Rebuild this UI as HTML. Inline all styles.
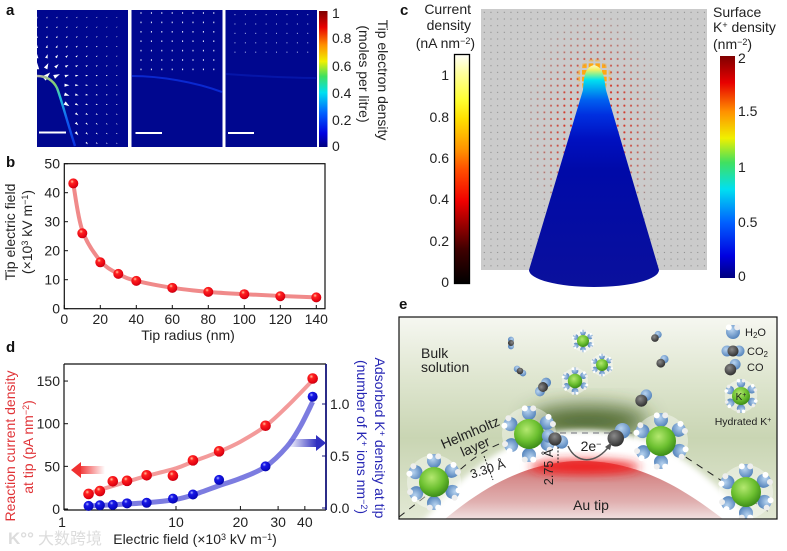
<!DOCTYPE html>
<html lang="en">
<head>
<meta charset="utf-8">
<title>Tip field-induced reagent concentration figure</title>
<style>
html,body{margin:0;padding:0;background:#fff;width:787px;height:551px;overflow:hidden}
svg{display:block}
text{font-family:"Liberation Sans","Noto Sans CJK SC",sans-serif;fill:#222;font-size:14px}
.panel{font-weight:bold;font-size:15px;fill:#111}
</style>
</head>
<body>
<svg id="fig" xmlns="http://www.w3.org/2000/svg" width="787" height="551" viewBox="0 0 787 551">
<defs>
  <linearGradient id="jetV" x1="0" y1="1" x2="0" y2="0">
    <stop offset="0" stop-color="#00007f"/><stop offset=".1" stop-color="#0000e0"/><stop offset=".25" stop-color="#0060ff"/><stop offset=".4" stop-color="#00e0f0"/><stop offset=".52" stop-color="#40e060"/><stop offset=".63" stop-color="#f0f000"/><stop offset=".75" stop-color="#ff9000"/><stop offset=".88" stop-color="#e80000"/><stop offset="1" stop-color="#7f0000"/>
  </linearGradient>
  <linearGradient id="hotV" x1="0" y1="1" x2="0" y2="0">
    <stop offset="0" stop-color="#000"/><stop offset=".15" stop-color="#400000"/><stop offset=".36" stop-color="#f00000"/><stop offset=".5" stop-color="#ff5000"/><stop offset=".58" stop-color="#ff9000"/><stop offset=".72" stop-color="#ffe000"/><stop offset=".8" stop-color="#ffff30"/><stop offset=".92" stop-color="#ffffa0"/><stop offset="1" stop-color="#fffffa"/>
  </linearGradient>
  <linearGradient id="tipA" gradientUnits="userSpaceOnUse" x1="37" y1="76" x2="75" y2="146">
    <stop offset="0" stop-color="#b8b8a8"/><stop offset=".2" stop-color="#80d070"/><stop offset=".38" stop-color="#20c0e0"/><stop offset=".65" stop-color="#1060f0"/><stop offset="1" stop-color="#0a30e0"/>
  </linearGradient>
  <linearGradient id="coneG" gradientUnits="userSpaceOnUse" x1="0" y1="63" x2="0" y2="287">
    <stop offset="0" stop-color="#fffff0"/><stop offset=".03" stop-color="#f4f060"/><stop offset=".054" stop-color="#70f0a0"/><stop offset=".076" stop-color="#00e0f0"/><stop offset=".12" stop-color="#00a0f0"/><stop offset=".165" stop-color="#0060f0"/><stop offset=".23" stop-color="#0030e0"/><stop offset=".34" stop-color="#0010c0"/><stop offset=".48" stop-color="#000aa8"/><stop offset="1" stop-color="#0a109c"/>
  </linearGradient>
  <radialGradient id="redBall" cx=".38" cy=".32" r=".75">
    <stop offset="0" stop-color="#ffc8a0"/><stop offset=".25" stop-color="#ff2020"/><stop offset=".8" stop-color="#e00010"/><stop offset="1" stop-color="#a80010"/>
  </radialGradient>
  <radialGradient id="blueBall" cx=".38" cy=".32" r=".75">
    <stop offset="0" stop-color="#b0b8ff"/><stop offset=".25" stop-color="#1818e8"/><stop offset=".8" stop-color="#0808c0"/><stop offset="1" stop-color="#000080"/>
  </radialGradient>
  <linearGradient id="arrowRed" x1="0" x2="1"><stop offset="0" stop-color="#f03030"/><stop offset="1" stop-color="#f03030" stop-opacity="0"/></linearGradient>
  <linearGradient id="arrowBlue" x1="0" x2="1"><stop offset="0" stop-color="#3030c0" stop-opacity="0"/><stop offset="1" stop-color="#3030c0"/></linearGradient>

  <pattern id="dotGray" width="6.67" height="6.67" patternUnits="userSpaceOnUse" x="481" y="9"><circle cx="3.3" cy="3.3" r=".6" fill="#8a8a8a"/></pattern>
  <pattern id="dotRed" width="6.67" height="6.67" patternUnits="userSpaceOnUse" x="481" y="9"><circle cx="3.3" cy="3.3" r="1.1" fill="#d82818"/></pattern>
  <pattern id="dotYellow" width="6.67" height="6.67" patternUnits="userSpaceOnUse" x="481" y="9"><rect x="1" y="1" width="4.6" height="4.6" fill="#ffa810"/></pattern>
  <radialGradient id="maskR1" gradientUnits="userSpaceOnUse" cx="594" cy="125" r="100" gradientTransform="translate(594 125) scale(.72 1.15) translate(-594 -125)">
    <stop offset="0" stop-color="#fff"/><stop offset=".4" stop-color="#ddd"/><stop offset=".7" stop-color="#666"/><stop offset="1" stop-color="#000"/>
  </radialGradient>
  <radialGradient id="maskR2" gradientUnits="userSpaceOnUse" cx="594" cy="76" r="18">
    <stop offset="0" stop-color="#fff"/><stop offset=".75" stop-color="#fff"/><stop offset="1" stop-color="#000"/>
  </radialGradient>
  <mask id="redMask" maskUnits="userSpaceOnUse" x="481" y="9" width="226" height="261"><rect x="481" y="9" width="226" height="261" fill="url(#maskR1)"/></mask>
  <mask id="yellowMask" maskUnits="userSpaceOnUse" x="481" y="9" width="226" height="261"><rect x="481" y="9" width="226" height="261" fill="url(#maskR2)"/></mask>
  <clipPath id="clipA1"><rect x="37" y="10" width="91" height="137"/></clipPath>

  <linearGradient id="eBg" x1="0" y1="0" x2="0" y2="1">
    <stop offset="0" stop-color="#f6f7f1"/><stop offset=".3" stop-color="#dfe6d0"/><stop offset=".6" stop-color="#c9d5b3"/><stop offset="1" stop-color="#e2e8d4"/>
  </linearGradient>
  <linearGradient id="tipRed" x1="0" y1="0" x2="0" y2="1">
    <stop offset="0" stop-color="#dc5050"/><stop offset=".3" stop-color="#d68c8c"/><stop offset=".7" stop-color="#e0b0b0"/><stop offset="1" stop-color="#f0e0e0"/>
  </linearGradient>
  <radialGradient id="kBall" cx=".42" cy=".35" r=".7">
    <stop offset="0" stop-color="#b4e870"/><stop offset=".55" stop-color="#6cc030"/><stop offset="1" stop-color="#348414"/>
  </radialGradient>
  <radialGradient id="oBall" cx=".4" cy=".35" r=".7"><stop offset="0" stop-color="#b8d4f0"/><stop offset="1" stop-color="#4f7fb8"/></radialGradient>
  <radialGradient id="cBall" cx=".4" cy=".35" r=".7"><stop offset="0" stop-color="#8a8a8a"/><stop offset="1" stop-color="#2a2a2a"/></radialGradient>
  <filter id="blur5" x="-30%" y="-60%" width="160%" height="220%"><feGaussianBlur stdDeviation="5"/></filter>
  <filter id="blur3" x="-30%" y="-30%" width="160%" height="160%"><feGaussianBlur stdDeviation="3"/></filter>
  <filter id="blur12" x="-40%" y="-60%" width="180%" height="220%"><feGaussianBlur stdDeviation="10"/></filter>

  <g id="water">
    <circle cx="0" cy="0" r="7" fill="url(#oBall)"/>
    <circle cx="-4.2" cy="-4.6" r="3" fill="#fff"/>
    <circle cx="4.2" cy="-4.6" r="3" fill="#eee"/>
  </g>
  <g id="hydrated">
    <circle cx="0" cy="0" r="27" fill="#fff" fill-opacity=".4"/>
    <use href="#water" transform="translate(0 -21)"/>
    <use href="#water" transform="rotate(58) translate(0 -21)"/>
    <use href="#water" transform="rotate(118) translate(0 -21)"/>
    <use href="#water" transform="rotate(180) translate(0 -21)"/>
    <use href="#water" transform="rotate(238) translate(0 -21)"/>
    <use href="#water" transform="rotate(298) translate(0 -21)"/>
    <circle cx="0" cy="0" r="15" fill="url(#kBall)"/>
  </g>
  <g id="co2">
    <circle cx="-6" cy="0" r="5.5" fill="url(#oBall)"/>
    <circle cx="6" cy="0" r="5.5" fill="url(#oBall)"/>
    <circle cx="0" cy="0" r="5.5" fill="url(#cBall)"/>
  </g>
  <g id="co">
    <circle cx="3" cy="-3.5" r="5.2" fill="url(#oBall)"/>
    <circle cx="-1.5" cy="1.5" r="5.5" fill="url(#cBall)"/>
  </g>
</defs>

<rect width="787" height="551" fill="#fff"/>

<!-- Panel a -->
<g>
  <text class="panel" x="6" y="15">a</text>
  <rect x="37" y="10" width="91" height="137" fill="#00078f"/>
  <rect x="131.500" y="10" width="91" height="137" fill="#00078f"/>
  <rect x="225.500" y="10" width="91.500" height="137" fill="#00078f"/>
  <g id="arrows" clip-path="url(#clipA1)"></g>
  <g id="arrows23"></g>
  <path d="M37 76 C46 76 53 80 57 88 C61 98 66 118 75 146" fill="none" stroke="url(#tipA)" stroke-width="2.400"/>
  <path d="M132 76 C160 76 195 82 222 92" fill="none" stroke="#0a28d0" stroke-width="2"/>
  <path d="M226 74 C255 76 290 78 316 78" fill="none" stroke="#0515a8" stroke-width="2"/>
  <rect x="39" y="131.500" width="27" height="2" fill="#fff"/>
  <rect x="135.500" y="132" width="26.500" height="2" fill="#fff"/>
  <rect x="228" y="132" width="26" height="2" fill="#fff"/>
  <rect x="319" y="11" width="8.500" height="136" fill="url(#jetV)"/>
  <text x="332" y="18">1</text>
  <text x="332" y="43">0.8</text>
  <text x="332" y="71">0.6</text>
  <text x="332" y="98">0.4</text>
  <text x="332" y="125">0.2</text>
  <text x="332" y="151">0</text>
  <text text-anchor="middle" transform="translate(378 80) rotate(90)">Tip electron density</text>
  <text text-anchor="middle" transform="translate(359 74) rotate(90)">(moles per litre)</text>
</g>

<!-- Panel b -->
<g>
  <text class="panel" x="6" y="167">b</text>
  <g id="chartB"></g>
  <text text-anchor="middle" x="188" y="340">Tip radius (nm)</text>
  <text text-anchor="middle" transform="translate(15 232) rotate(-90)">Tip electric field</text>
  <text text-anchor="middle" transform="translate(32 232) rotate(-90)">(×10<tspan dy="-4" font-size="9">3</tspan><tspan dy="4"> kV m</tspan><tspan dy="-4" font-size="9">−1</tspan><tspan dy="4">)</tspan></text>
</g>

<!-- Panel d -->
<g>
  <text class="panel" x="6" y="352">d</text>
  <g id="chartD"></g>
  <rect x="79" y="466" width="26" height="8" fill="url(#arrowRed)"/>
  <path d="M71 470 L81 462 L81 478 Z" fill="#f03030"/>
  <rect x="288" y="439" width="29" height="8" fill="url(#arrowBlue)"/>
  <path d="M326 443 L316 435 L316 451 Z" fill="#3030c0"/>
  <text text-anchor="middle" transform="translate(15 446) rotate(-90)" style="fill:#e03438">Reaction current density</text>
  <text text-anchor="middle" transform="translate(33 447) rotate(-90)" style="fill:#e03438">at tip (pA nm<tspan dy="-4" font-size="9" style="fill:#e03438">−2</tspan><tspan dy="4" style="fill:#e03438">)</tspan></text>
  <text text-anchor="middle" transform="translate(375 438) rotate(90)" style="fill:#2626b4">Adsorbed K<tspan dy="-4" font-size="9" style="fill:#2626b4">+</tspan><tspan dy="4" style="fill:#2626b4"> density at tip</tspan></text>
  <text text-anchor="middle" transform="translate(357 437) rotate(90)" style="fill:#2626b4">(number of K<tspan dy="-4" font-size="9" style="fill:#2626b4">+</tspan><tspan dy="4" style="fill:#2626b4"> ions nm</tspan><tspan dy="-4" font-size="9" style="fill:#2626b4">−2</tspan><tspan dy="4" style="fill:#2626b4">)</tspan></text>
  <text text-anchor="middle" x="195" y="544">Electric field (×10<tspan dy="-4" font-size="9">3</tspan><tspan dy="4"> kV m</tspan><tspan dy="-4" font-size="9">−1</tspan><tspan dy="4">)</tspan></text>
  <text x="8" y="544" style="fill:#dcdcdc;font-size:17px;font-weight:bold">K°°</text>
  <text x="38" y="544" style="fill:#dcdcdc;font-size:16px">大数跨境</text>
</g>

<!-- Panel c -->
<g>
  <text class="panel" x="400" y="15">c</text>
  <text text-anchor="end" x="471" y="14">Current</text>
  <text text-anchor="end" x="471" y="30">density</text>
  <text text-anchor="end" x="475" y="48">(nA nm<tspan dy="-4" font-size="9">−2</tspan><tspan dy="4">)</tspan></text>
  <rect x="454.500" y="54.500" width="15" height="229" fill="url(#hotV)" stroke="#000" stroke-width="1.300"/>
  <text text-anchor="end" x="449" y="80">1</text>
  <text text-anchor="end" x="449" y="122">0.8</text>
  <text text-anchor="end" x="449" y="163">0.6</text>
  <text text-anchor="end" x="449" y="204">0.4</text>
  <text text-anchor="end" x="449" y="246">0.2</text>
  <text text-anchor="end" x="449" y="287">0</text>

  <rect x="481" y="9" width="226" height="261" fill="#cbcbcb"/>
  <rect x="481" y="9" width="226" height="261" fill="url(#dotGray)"/>
  <rect x="481" y="9" width="226" height="261" fill="url(#dotRed)" mask="url(#redMask)"/>
  <rect x="481" y="9" width="226" height="261" fill="url(#dotYellow)" mask="url(#yellowMask)"/>
  <path d="M529 270 L583 90 C584 76 585 67 594 65 C603 67 604 76 606 90 L659 270 A65 17 0 0 1 529 270 Z" fill="url(#coneG)"/>

  <rect x="720" y="56" width="15" height="222" fill="url(#jetV)"/>
  <text x="713" y="17">Surface</text>
  <text x="713" y="32">K<tspan dy="-4" font-size="9">+</tspan><tspan dy="4"> density</tspan></text>
  <text x="713" y="49">(nm<tspan dy="-4" font-size="9">−2</tspan><tspan dy="4">)</tspan></text>
  <text x="738" y="63">2</text>
  <text x="738" y="116">1.5</text>
  <text x="738" y="172">1</text>
  <text x="738" y="227">0.5</text>
  <text x="738" y="281">0</text>
</g>

<!-- Panel e -->
<g>
  <text class="panel" x="399" y="309">e</text>
  <clipPath id="eClip"><rect x="399" y="317" width="378" height="202"/></clipPath>
  <g clip-path="url(#eClip)">
    <rect x="399" y="317" width="378" height="202" fill="url(#eBg)"/>
    <ellipse cx="588" cy="421" rx="60" ry="15" fill="#3f5a1c" fill-opacity=".9" filter="url(#blur12)"/>
    <path d="M399 530 L425 519 C465 472 510 430 582 430 C660 430 700 468 750 519 L790 530 Z" fill="#fff" filter="url(#blur3)"/>
    <path d="M445 519 C480 490 525 461 582 461 C640 461 685 490 723 519 Z" fill="url(#tipRed)"/>
    <ellipse cx="585" cy="467" rx="55" ry="7" fill="#f02020" filter="url(#blur5)"/>
    <path d="M399 517 L462 468 C480 452 500 442 512 440" fill="none" stroke="#222" stroke-width="1" stroke-dasharray="7 6"/>
    <path d="M560 433 L636 433" fill="none" stroke="#445" stroke-width=".8" stroke-dasharray="6 5"/>
    <path d="M675 450 L772 514" fill="none" stroke="#222" stroke-width="1" stroke-dasharray="7 6"/>

    <use href="#hydrated" transform="translate(434 482)"/>
    <use href="#hydrated" transform="translate(529 434)"/>
    <use href="#hydrated" transform="translate(661 441)"/>
    <use href="#hydrated" transform="translate(746 492)"/>
    <use href="#hydrated" transform="translate(583 341) scale(.4)"/>
    <use href="#hydrated" transform="translate(602 365) scale(.4)"/>
    <use href="#hydrated" transform="translate(575 381) scale(.48)"/>
    <use href="#hydrated" transform="translate(741 396) scale(.6)"/>

    <use href="#co2" transform="translate(555 439) rotate(25) scale(1.2)"/>
    <use href="#co" transform="translate(618 436) scale(1.5)"/>
    <use href="#co2" transform="translate(511 343) rotate(90) scale(.55)"/>
    <use href="#co2" transform="translate(520 371) rotate(35) scale(.6)"/>
    <use href="#co2" transform="translate(543 387) rotate(-55) scale(.9)"/>
    <use href="#co" transform="translate(656 337) scale(.7)"/>
    <use href="#co" transform="translate(662 362) scale(.8)"/>
    <use href="#co" transform="translate(643 399) scale(1.1)"/>
    <use href="#water" transform="translate(733 332)"/>
    <use href="#co2" transform="translate(733 351)"/>
    <use href="#co" transform="translate(732 368) scale(1.05)"/>

    <path d="M568 446 C576 464 596 465 610 445" fill="none" stroke="#555" stroke-width="1.500"/>
    <path d="M612 442 L610 450 L605 447 Z" fill="#555"/>
    <path d="M484 456 L493 480" fill="none" stroke="#111" stroke-width=".9" stroke-dasharray="2 1.500"/>
    <path d="M558 447 L558 463" fill="none" stroke="#111" stroke-width=".9" stroke-dasharray="2 1.500"/>

    <text x="421" y="358">Bulk</text>
    <text x="421" y="372">solution</text>
    <text text-anchor="middle" transform="translate(472 437) rotate(-23)" style="font-size:14px">Helmholtz</text>
    <text text-anchor="middle" transform="translate(477 451) rotate(-23)" style="font-size:14px">layer</text>
    <text text-anchor="middle" transform="translate(489 473) rotate(-18)" style="font-size:12.500px">3.30 Å</text>
    <text text-anchor="middle" transform="translate(553 467) rotate(-90)" style="font-size:12.500px">2.75 Å</text>
    <text text-anchor="middle" x="591" y="451">2e<tspan dy="-4" font-size="9">−</tspan></text>
    <text text-anchor="middle" x="591" y="510" style="font-size:14px">Au tip</text>
    <text x="745" y="336" style="font-size:11px">H<tspan dy="2" font-size="8">2</tspan><tspan dy="-2">O</tspan></text>
    <text x="747" y="355" style="font-size:11px">CO<tspan dy="2" font-size="8">2</tspan></text>
    <text x="747" y="371" style="font-size:11px">CO</text>
    <text text-anchor="middle" x="743" y="425" style="font-size:10.500px">Hydrated K<tspan dy="-3" font-size="7">+</tspan></text>
    <text text-anchor="middle" x="741" y="400" style="font-size:10px">K<tspan dy="-3" font-size="7">+</tspan></text>
  </g>
  <rect x="399" y="317" width="378" height="202" fill="none" stroke="#111" stroke-width="1.200"/>
</g>

<script>
// Panel b data
var bRadius = [5, 10, 20, 30, 40, 60, 80, 100, 120, 140];
var bField = [43.2, 26, 16, 12, 9.6, 7.2, 5.8, 5, 4.3, 3.9];
var bFit = [43, 27, 16.5, 12, 9.6, 7.2, 5.8, 5, 4.4, 3.9];
var bXTicks = [0, 20, 40, 60, 80, 100, 120, 140];
var bYTicks = [0, 10, 20, 30, 40, 50];

// Panel d data
var dField = [1.71, 2.15, 2.79, 3.72, 5.53, 9.4, 12, 15.9, 26.2, 43.5];
var dCurrent = [17.6, 21, 32.5, 33, 39.5, 39, 57, 67.6, 97.6, 153];
var dDensity = [0.02, 0.026, 0.03, 0.045, 0.05, 0.09, 0.13, 0.27, 0.40, 1.07];
var dCurrentFitField = [1.71, 3.72, 5.53, 10, 12, 15.9, 20, 26.2, 33, 38, 43.5];
var dCurrentFit = [18.4, 32, 38.7, 47.7, 55.5, 67.2, 78.9, 97.3, 120, 135.6, 151];
var dDensityFitField = [1.71, 5.53, 10, 12, 15.9, 20, 26.2, 33, 38, 43.5];
var dDensityFit = [0.019, 0.051, 0.083, 0.125, 0.215, 0.285, 0.397, 0.59, 0.78, 1.02];
var dXTicks = [1, 10, 20, 30, 40];
var dLeftTicks = [0, 50, 100, 150];
var dRightTicks = [0, 0.5, 1];

var SVGNS = 'http://www.w3.org/2000/svg';
function make(parent, tag, attrs, txt) {
  var el = document.createElementNS(SVGNS, tag);
  for (var k in attrs) el.setAttribute(k, attrs[k]);
  if (txt !== undefined) el.textContent = txt;
  parent.appendChild(el);
  return el;
}
function smooth(pts) {
  var d = 'M' + pts[0][0] + ' ' + pts[0][1];
  for (var i = 0; i < pts.length - 1; i++) {
    var p0 = pts[Math.max(i - 1, 0)], p1 = pts[i], p2 = pts[i + 1], p3 = pts[Math.min(i + 2, pts.length - 1)];
    d += ' C' + (p1[0] + (p2[0] - p0[0]) / 6) + ' ' + (p1[1] + (p2[1] - p0[1]) / 6) + ' ' +
         (p2[0] - (p3[0] - p1[0]) / 6) + ' ' + (p2[1] - (p3[1] - p1[1]) / 6) + ' ' + p2[0] + ' ' + p2[1];
  }
  return d;
}

// Panel b
var gB = document.getElementById('chartB');
function bx(v) { return 64.3 + 1.8 * v; }
function by(v) { return 308.7 - 2.9 * v; }
var frameB = make(gB, 'rect', {x: 64.3, y: 163.7, width: 260.7, height: 145, fill: 'none', stroke: '#111', 'stroke-width': 1.2});


bXTicks.forEach(function (t) {
  var tk = make(gB, 'line', {x1: bx(t), x2: bx(t), y1: 308.7, y2: 305, stroke: '#111'});
  
  
  var lb = make(gB, 'text', {x: bx(t), y: 324, 'text-anchor': 'middle'}, String(t));
  
  
});
bYTicks.forEach(function (t) {
  var tk = make(gB, 'line', {x1: 64.3, x2: 68, y1: by(t), y2: by(t), stroke: '#111'});
  
  
  var lb = make(gB, 'text', {x: 60, y: by(t) + 5, 'text-anchor': 'end'}, String(t));
  
  
});
var lineB = make(gB, 'path', {d: smooth(bRadius.map(function (r, i) { return [bx(r), by(bFit[i])]; })), fill: 'none', stroke: '#f08a8a', 'stroke-width': 4});


bRadius.forEach(function (r, i) {
  var c = make(gB, 'circle', {cx: bx(r), cy: by(bField[i]), r: 5, fill: 'url(#redBall)'});
  
  
});

// Panel d
var gD = document.getElementById('chartD');
function dx(v) { return v <= 10 ? 62 + 114 * Math.log10(v) : 176 + 214 * Math.log10(v / 10); }
function dyL(v) { return 509 - 0.853 * v; }
function dyR(v) { return 508 - 104 * v; }
[[64, 364, 326, 364], [64, 364, 64, 510], [64, 510, 326, 510]].forEach(function (s) {
  var a = make(gD, 'line', {x1: s[0], y1: s[1], x2: s[2], y2: s[3], stroke: '#111', 'stroke-width': 1.2});
  
  
});
var rAxis = make(gD, 'line', {x1: 326, y1: 364, x2: 326, y2: 510, stroke: '#14147a', 'stroke-width': 1.8});


dXTicks.forEach(function (t) {
  if (t > 1) {
    var tk = make(gD, 'line', {x1: dx(t), x2: dx(t), y1: 510, y2: 506, stroke: '#111'});
    
    
  }
  var lb = make(gD, 'text', {x: dx(t), y: 527, 'text-anchor': 'middle'}, String(t));
  
  
});
dLeftTicks.forEach(function (t) {
  var tk = make(gD, 'line', {x1: 64, x2: 68, y1: dyL(t), y2: dyL(t), stroke: '#111'});
  
  
  var lb = make(gD, 'text', {x: 60, y: dyL(t) + 5, 'text-anchor': 'end'}, String(t));
  
  
});
dRightTicks.forEach(function (t) {
  var tk = make(gD, 'line', {x1: 322, x2: 326, y1: dyR(t), y2: dyR(t), stroke: '#14147a'});
  
  
  var lb = make(gD, 'text', {x: 330, y: dyR(t) + 5}, t.toFixed(1));
  
  
});
var fitRed = make(gD, 'path', {d: smooth(dCurrentFitField.map(function (f, i) { return [dx(f), dyL(dCurrentFit[i])]; })), fill: 'none', stroke: '#f39a9a', 'stroke-width': 4});


var fitBlue = make(gD, 'path', {d: smooth(dDensityFitField.map(function (f, i) { return [dx(f), dyR(dDensityFit[i])]; })), fill: 'none', stroke: '#7c7ce0', 'stroke-width': 5});


dField.forEach(function (f, i) {
  var c = make(gD, 'circle', {cx: dx(f), cy: dyL(dCurrent[i]), r: 5.3, fill: 'url(#redBall)'});
  
  
  var b = make(gD, 'circle', {cx: dx(f), cy: dyR(dDensity[i]), r: 5, fill: 'url(#blueBall)'});
  
  
});

// Panel a vector field glyphs
var gA = document.getElementById('arrows');
var gA2 = document.getElementById('arrows23');
var tipCurve = [[37, 76], [50, 80], [57, 88], [63, 107], [75, 146]];
function curveX(y) {
  for (var i = 0; i < tipCurve.length - 1; i++) {
    if (y <= tipCurve[i + 1][1]) {
      var a = tipCurve[i], b = tipCurve[i + 1];
      return a[0] + (b[0] - a[0]) * (y - a[1]) / (b[1] - a[1]);
    }
  }
  return 75;
}
function surfaceDistance(x, y) {
  var best = 1e9;
  for (var i = 0; i < tipCurve.length - 1; i++) {
    for (var t = 0; t <= 1; t += 0.1) {
      var px = tipCurve[i][0] + (tipCurve[i + 1][0] - tipCurve[i][0]) * t;
      var py = tipCurve[i][1] + (tipCurve[i + 1][1] - tipCurve[i][1]) * t;
      best = Math.min(best, Math.hypot(x - px, y - py));
    }
  }
  return best;
}
var cols = [-1, 0, 1, 2, 3, 4, 5, 6, 7];
var rows = [0, 1, 2, 3, 4, 5, 6, 7, 8, 9, 10, 11, 12, 13];
cols.forEach(function (c) {
  rows.forEach(function (r) {
    var x = 47 + c * 10, y = 17.3 + r * 9.7;
    if (y > 72 && x < curveX(y) + 4) return;
    var ex = x - 37, ey = y - 85, d0 = Math.hypot(ex, ey) + .01;
    var s = Math.max(0.6, Math.min(4.4, 50 / d0 + 10 / (surfaceDistance(x, y) + 2)));
    var ux = ex / d0, uy = ey / d0;
    var p = [[x + ux * s, y + uy * s], [x - ux * s - uy * s * .65, y - uy * s + ux * s * .65], [x - ux * s + uy * s * .65, y - uy * s - ux * s * .65]];
    var ar = make(gA, 'polygon', {points: p.map(function (q) { return q.join(','); }).join(' '), fill: '#fff'});
    
    
  });
});
cols.slice(1).forEach(function (c) {
  [0, 1, 2, 3, 4, 5, 6].forEach(function (r) {
    var x = 141 + c * 10.4, y = 13 + r * 9.4;
    var a2 = make(gA2, 'rect', {x: x - .5, y: y - .8, width: 1, height: 1.6, fill: '#e8ecff'});
    
    
    if (r < 5) {
      var a3 = make(gA2, 'rect', {x: x + 93.5, y: y + 1, width: .9, height: 1.2, fill: '#a8b0e8'});
      
      
    }
  });
});
</script>
</svg>
</body>
</html>
